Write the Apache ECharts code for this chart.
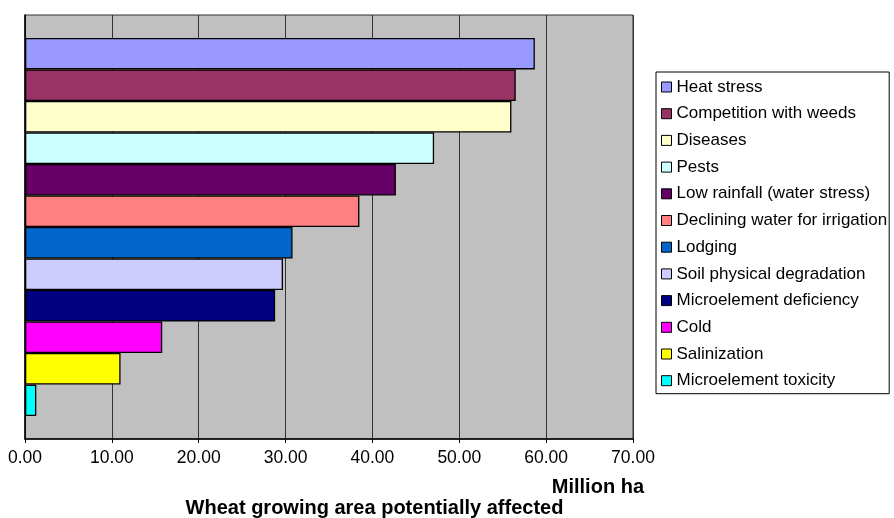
<!DOCTYPE html>
<html>
<head>
<meta charset="utf-8">
<title>Wheat growing area potentially affected</title>
<script src="https://cdn.jsdelivr.net/npm/echarts@6/dist/echarts.min.js"></script>
<style>
  html, body { margin: 0; padding: 0; background: #ffffff; }
  #chart { width: 894px; height: 518px; }
</style>
</head>
<body>
<div id="chart"></div>
<script>
// Constraints, in legend order (top bar first)
const constraints = [
  'Heat stress',
  'Competition with weeds',
  'Diseases',
  'Pests',
  'Low rainfall (water stress)',
  'Declining water for irrigation',
  'Lodging',
  'Soil physical degradation',
  'Microelement deficiency',
  'Cold',
  'Salinization',
  'Microelement toxicity'
];

// Area affected, million ha
const areaAffected = [58.7, 56.5, 56.0, 47.1, 42.7, 38.5, 30.8, 29.7, 28.8, 15.8, 11.0, 1.3];

// Axis ticks
const xTicks = [0, 10, 20, 30, 40, 50, 60, 70];

// Fill colour of each bar
const barColors = [
  '#9999FF', '#993366', '#FFFFCC', '#CCFFFF', '#660066', '#FF8080',
  '#0066CC', '#CCCCFF', '#000080', '#FF00FF', '#FFFF00', '#00FFFF'
];

const FONT = 'Liberation Sans, Arial, Helvetica, sans-serif';

const chart = echarts.init(document.getElementById('chart'), null, { renderer: 'canvas' });

const series = constraints.map((name, i) => ({
  name: name,
  type: 'bar',
  data: [areaAffected[i]],
  barGap: '0%',
  barCategoryGap: '10.8%',
  itemStyle: {
    color: barColors[i],
    borderColor: '#000000',
    borderWidth: 1.3
  },
  emphasis: { disabled: true },
  animation: false
}));

chart.setOption({
  backgroundColor: '#ffffff',
  animation: false,
  grid: {
    left: 25,
    top: 15,
    width: 608,
    height: 424,
    show: true,
    backgroundColor: '#C0C0C0',
    borderColor: '#333333',
    borderWidth: 1
  },
  xAxis: {
    type: 'value',
    min: xTicks[0],
    max: xTicks[xTicks.length - 1],
    interval: xTicks[1] - xTicks[0],
    axisLine: { show: true, lineStyle: { color: '#000000', width: 1.5 } },
    axisTick: { show: true, length: 4, lineStyle: { color: '#000000' } },
    axisLabel: {
      margin: 10,
      color: '#000000',
      fontFamily: FONT,
      fontSize: 17.5,
      formatter: v => v.toFixed(2)
    },
    splitLine: { show: true, lineStyle: { color: '#333333', width: 1 } }
  },
  yAxis: {
    type: 'category',
    data: [''],
    inverse: true,
    axisLine: { show: true, lineStyle: { color: '#000000', width: 1.5 } },
    axisTick: { show: false },
    axisLabel: { show: false },
    splitLine: { show: false }
  },
  legend: {
    orient: 'vertical',
    left: 656,
    top: 72,
    padding: [5, 2, 3, 5],
    itemGap: 6.7,
    itemWidth: 10,
    itemHeight: 10,
    icon: 'rect',
    backgroundColor: '#ffffff',
    borderColor: '#000000',
    borderWidth: 1,
    borderRadius: 0,
    selectedMode: false,
    itemStyle: { borderColor: '#000000', borderWidth: 1 },
    textStyle: {
      color: '#000000',
      fontFamily: FONT,
      fontSize: 17,
      lineHeight: 20
    },
    data: constraints
  },
  graphic: [
    {
      type: 'text',
      x: 644,
      y: 487,
      silent: true,
      style: {
        text: 'Million ha',
        fill: '#000000',
        font: 'bold 20px ' + FONT,
        textAlign: 'right',
        textVerticalAlign: 'middle'
      }
    },
    {
      type: 'text',
      x: 374.5,
      y: 508,
      silent: true,
      style: {
        text: 'Wheat growing area potentially affected',
        fill: '#000000',
        font: 'bold 20px ' + FONT,
        textAlign: 'center',
        textVerticalAlign: 'middle'
      }
    }
  ],
  series: series
});
</script>
</body>
</html>
